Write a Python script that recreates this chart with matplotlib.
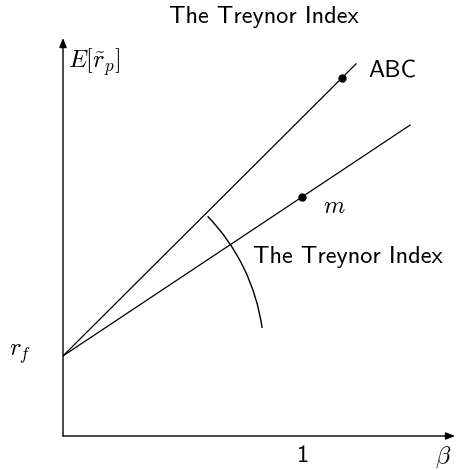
import numpy as np
import matplotlib
matplotlib.use("Agg")
import matplotlib.pyplot as plt
from matplotlib.patches import Arc

plt.rcParams['mathtext.fontset'] = 'cm'
SANS = ['cmss10', 'DejaVu Sans']

# valeurs
r_f = 0.335
market = [1.0, 1.0]          # (beta, E[r]) du portefeuille m
abc = [1.167, 1.498]         # (beta, E[r]) du portefeuille ABC
abc_line_end = 1.226         # beta en fin de droite ABC
m_line_end = 1.452           # beta en fin de droite m
arc_radius = 0.841
arc_angles = [8, 44]
x_max, y_max = 1.64, 1.665

fig = plt.figure(figsize=(4.58, 4.70), dpi=100)
ax = fig.add_axes([63 / 458, 34 / 470, 392 / 458, 398 / 470])
ax.set_xlim(0, x_max)
ax.set_ylim(0, y_max)
ax.axis('off')

# axes avec fleches
arrow = dict(arrowstyle='-|>,head_length=0.55,head_width=0.22', color='black', lw=1.0,
             shrinkA=0, shrinkB=0)
ax.annotate('', xy=(0, y_max), xytext=(0, 0), arrowprops=arrow, annotation_clip=False)
ax.annotate('', xy=(x_max, 0), xytext=(0, 0), arrowprops=arrow, annotation_clip=False)

# droites depuis r_f
slope_abc = (abc[1] - r_f) / abc[0]
slope_m = (market[1] - r_f) / market[0]
xa = np.array([0, abc_line_end])
xm = np.array([0, m_line_end])
ax.plot(xa, r_f + slope_abc * xa, color='black', lw=0.9)
ax.plot(xm, r_f + slope_m * xm, color='black', lw=0.9)
ax.plot([abc[0]], [abc[1]], 'o', color='black', ms=5)
ax.plot([market[0]], [market[1]], 'o', color='black', ms=5)

# arc de l'indice de Treynor
ax.add_patch(Arc((0, r_f), 2 * arc_radius, 2 * arc_radius, theta1=arc_angles[0],
                 theta2=arc_angles[1], color='black', lw=1.0))

# textes
fs = 17.5
ax.text(0.021, 1.565, r'$E[\tilde{r}_p]$', fontsize=fs, ha='left', va='center')
ax.text(1.276, 1.523, 'ABC', family=SANS, fontsize=fs, ha='left', va='center')
ax.text(1.134, 0.962, r'$m$', fontsize=fs, ha='center', va='center')
ax.text(0.795, 0.749, 'The Treynor Index', family=SANS, fontsize=fs, ha='left', va='center')
ax.text(-0.18, 0.343, r'$r_f$', fontsize=fs, ha='center', va='center', clip_on=False)
ax.text(1.004, -0.084, '1', family=SANS, fontsize=fs, ha='center', va='center', clip_on=False)
ax.text(1.59, -0.088, r'$\beta$', fontsize=fs, ha='center', va='center', clip_on=False)

fig.text(264 / 458, 1 - 17 / 470, 'The Treynor Index', family=SANS, fontsize=fs,
         ha='center', va='center')

fig.savefig('out.png', dpi=100)
